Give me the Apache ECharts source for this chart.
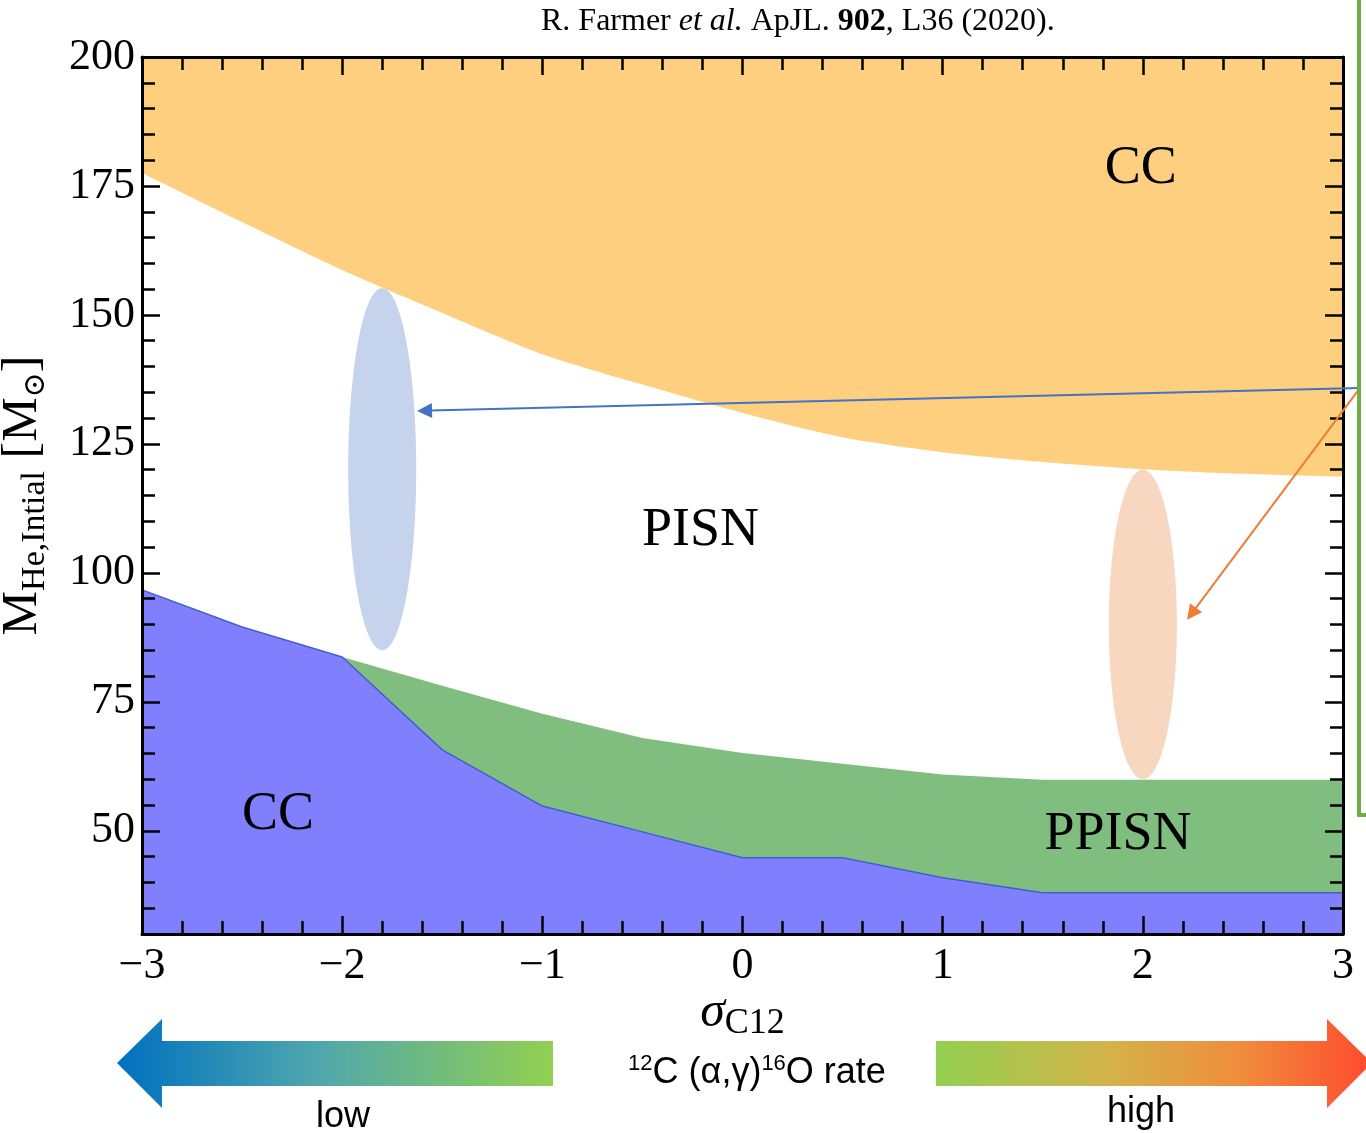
<!DOCTYPE html>
<html><head><meta charset="utf-8">
<script src="https://cdn.jsdelivr.net/npm/echarts@6/dist/echarts.min.js"></script>
<style>html,body{margin:0;padding:0;background:#fff}#c{width:1366px;height:1133px}</style>
</head><body><div id="c"></div>
<script>
// ---------- data ----------
const xTickLabels = [-3, -2, -1, 0, 1, 2, 3];
const yTickLabels = [50, 75, 100, 125, 150, 175, 200];

// lower edge of the upper CC region (sigma_C12, M_He)
const ccUpperEdge = [[-3,177.5],[-2.5,168.0],[-2,158.7],[-1.5,150.4],[-1,142.4],[-0.5,136.5],[0,131.0],[0.5,126.3],[1,123.4],[1.5,121.5],[2,120.1],[2.5,119.2],[3,118.6]];
// upper edge of the PPISN region
const ppisnUpperEdge = [[-2,83.7],[-1.5,78.1],[-1,72.7],[-0.5,68.0],[0,65.1],[0.5,63.0],[1,60.9],[1.5,59.9],[2,59.9],[2.5,59.9],[3,59.9]];
// upper edge of the lower CC region
const ccLowerEdge = [[-3,96.7],[-2.5,89.5],[-2,83.7],[-1.5,65.7],[-1,54.8],[-0.5,49.8],[0,44.8],[0.5,44.8],[1,40.9],[1.5,38.0],[2,38.0],[2.5,38.0],[3,38.0]];

// highlighted ranges: [centre sigma, centre mass, half width sigma, half height mass]
const lowRateRange = [-1.80, 120.1, 0.17, 35.1];
const highRateRange = [2.00, 90.0, 0.17, 30.0];

// pointer arrows: [from sigma, from mass, to sigma, to mass]
const lowRateArrow = [3.085, 135.85, -1.626, 131.4];
const highRateArrow = [3.085, 135.85, 2.221, 90.9];

// region names and where they sit
const regionNames = ['CC', 'PISN', 'CC', 'PPISN'];
const regionNamePos = [[1.99,178.3],[-0.21,108.1],[-2.32,53.1],[1.876,49.2]];

// ---------- chart ----------
const SERIF = 'Liberation Serif, Times New Roman, serif';
const SANS = 'Liberation Sans, Arial, sans-serif';
const chart = echarts.init(document.getElementById('c'), null, {renderer: 'canvas'});

const fmtX = v => (v < 0 ? '\u2212' + Math.abs(v) : String(v));
const tickStyle = {color: '#000', width: 2.5};
const frame = {show: true, onZero: false, lineStyle: {color: '#000', width: 3}};

function xAx(pos, withLabels) {
  return {
    type: 'value', position: pos, min: -3, max: 3, interval: 1, z: 10,
    axisLine: frame,
    axisTick: {show: true, inside: true, length: 18, lineStyle: tickStyle},
    minorTick: {show: true, splitNumber: 5, length: 13, lineStyle: tickStyle},
    splitLine: {show: false}, minorSplitLine: {show: false},
    axisLabel: withLabels ? {show: true, customValues: xTickLabels, formatter: fmtX, margin: 10,
      fontFamily: SERIF, fontSize: 44, color: '#000'} : {show: false},
    name: withLabels ? '{s|\u03c3}{c|C12}' : '',
    nameLocation: 'middle', nameGap: 50, nameMoveOverlap: false,
    nameTextStyle: {color: '#000', rich: {
      s: {fontFamily: SERIF, fontStyle: 'italic', fontSize: 50, color: '#000'},
      c: {fontFamily: SERIF, fontSize: 36, color: '#000', padding: [22, 0, 0, 0]}
    }}
  };
}
function yMinor(pos, withLabels) {
  return {
    type: 'value', position: pos, min: 30, max: 200, interval: 5, z: 10,
    axisLine: frame,
    axisTick: {show: true, inside: true, length: 13, lineStyle: tickStyle},
    splitLine: {show: false},
    axisLabel: withLabels ? {show: true, customValues: yTickLabels, margin: 7,
      fontFamily: SERIF, fontSize: 44, color: '#000'} : {show: false},
    name: withLabels ? '{m|M}{s|He,Intial}{n| [M}{o|\u2299}{n|]}' : '',
    nameLocation: 'middle', nameGap: 90, nameMoveOverlap: false,
    nameTextStyle: {color: '#000', rich: {
      m: {fontFamily: SERIF, fontSize: 50, color: '#000'},
      n: {fontFamily: SERIF, fontSize: 50, color: '#000'},
      s: {fontFamily: SERIF, fontSize: 34, color: '#000', padding: [24, 0, 0, 0]},
      o: {fontFamily: 'DejaVu Serif, DejaVu Sans', fontSize: 30, color: '#000', padding: [26, 0, 0, 0]}
    }}
  };
}
function yMajor(pos) {
  return {
    type: 'value', position: pos, min: 30, max: 200, z: 10,
    axisLine: {show: false, onZero: false},
    axisTick: {show: true, inside: true, length: 18, customValues: yTickLabels, lineStyle: tickStyle},
    splitLine: {show: false},
    axisLabel: {show: false}
  };
}

function ellipseItem(color) {
  return function (params, api) {
    const c = api.coord([api.value(0), api.value(1)]);
    const s = api.size([api.value(2), api.value(3)]);
    const pts = [];
    for (let i = 0; i < 90; i++) {
      const a = i / 90 * Math.PI * 2;
      pts.push([c[0] + s[0] * Math.cos(a), c[1] + s[1] * Math.sin(a)]);
    }
    return {type: 'polygon', shape: {points: pts}, style: {fill: color}};
  };
}
function arrowItem(color) {
  return function (params, api) {
    const p1 = api.coord([api.value(0), api.value(1)]);
    const p2 = api.coord([api.value(2), api.value(3)]);
    const dx = p2[0] - p1[0], dy = p2[1] - p1[1];
    const L = Math.sqrt(dx * dx + dy * dy);
    const ux = dx / L, uy = dy / L, px = -uy, py = ux;
    const hl = 15, hw = 7.5;
    const bx = p2[0] - ux * hl, by = p2[1] - uy * hl;
    return {type: 'group', children: [
      {type: 'line', shape: {x1: p1[0], y1: p1[1], x2: bx + ux * 2, y2: by + uy * 2}, style: {stroke: color, lineWidth: 2}},
      {type: 'polygon', shape: {points: [[p2[0], p2[1]], [bx + px * hw, by + py * hw], [bx - px * hw, by - py * hw]]}, style: {fill: color}}
    ]};
  };
}

const option = {
  backgroundColor: '#fff',
  animation: false,
  grid: {left: 142, right: 23, top: 57, bottom: 199, containLabel: false, outerBoundsMode: 'none'},
  xAxis: [xAx('bottom', true), xAx('top', false)],
  yAxis: [yMinor('left', true), yMajor('left'), yMinor('right', false), yMajor('right')],
  series: [
    {type: 'line', name: 'CC (upper)', data: ccUpperEdge, smooth: 0.25, symbol: 'none',
      lineStyle: {width: 0}, areaStyle: {color: '#fdcf7f', opacity: 1, origin: 'end'}, z: 1},
    {type: 'line', name: 'PPISN', data: ppisnUpperEdge, smooth: false, symbol: 'none',
      lineStyle: {width: 0}, areaStyle: {color: '#80be80', opacity: 1, origin: 'start'}, z: 2},
    {type: 'line', name: 'CC (lower)', data: ccLowerEdge, smooth: false, symbol: 'none',
      lineStyle: {width: 1.5, color: '#3f5fd0'}, areaStyle: {color: '#8080ff', opacity: 1, origin: 'start'}, z: 3},
    {type: 'custom', name: 'low range', data: [lowRateRange], renderItem: ellipseItem('#c5d3ec'), z: 4, silent: true},
    {type: 'custom', name: 'high range', data: [highRateRange], renderItem: ellipseItem('#f8d7c1'), z: 4, silent: true},
    {type: 'custom', name: 'regions', clip: false, silent: true,
      data: regionNamePos.map((p, i) => [p[0], p[1], i]),
      renderItem: function (params, api) {
        const c = api.coord([api.value(0), api.value(1)]);
        return {type: 'text', x: c[0], y: c[1], style: {text: regionNames[api.value(2)],
          fontFamily: SERIF, fontSize: 54, fill: '#000', align: 'center', verticalAlign: 'middle'}};
      }, z: 5},
    {type: 'custom', name: 'arrow low', clip: false, silent: true, data: [lowRateArrow],
      encode: {x: [0, 2], y: [1, 3]}, renderItem: arrowItem('#4472c4'), z: 20},
    {type: 'custom', name: 'arrow high', clip: false, silent: true, data: [highRateArrow],
      encode: {x: [0, 2], y: [1, 3]}, renderItem: arrowItem('#ed7d31'), z: 20}
  ],
  graphic: [
    {type: 'text', left: 541, top: 6, z: 30, style: {
      text: '{n|R. Farmer }{i|et al.}{n| ApJL. }{b|902}{n|, L36 (2020).}',
      rich: {
        n: {fontFamily: SERIF, fontSize: 32, fill: '#000'},
        i: {fontFamily: SERIF, fontSize: 32, fontStyle: 'italic', fill: '#000'},
        b: {fontFamily: SERIF, fontSize: 32, fontWeight: 'bold', fill: '#000'}
      }}},
    {type: 'rect', z: 30, shape: {x: 1359, y: -5, width: 100, height: 820}, style: {fill: 'none', stroke: '#70ad47', lineWidth: 4}},
    {type: 'polygon', z: 30, shape: {points: [[117,1063],[162,1019],[162,1041],[553,1041],[553,1086],[162,1086],[162,1108]]},
      style: {fill: new echarts.graphic.LinearGradient(0, 0, 1, 0, [
        {offset: 0, color: '#0070c0'}, {offset: 0.45, color: '#4ea6ae'}, {offset: 1, color: '#92d050'}])}},
    {type: 'polygon', z: 30, shape: {points: [[936,1041],[1327,1041],[1327,1019],[1372,1063],[1327,1108],[1327,1086],[936,1086]]},
      style: {fill: new echarts.graphic.LinearGradient(0, 0, 1, 0, [
        {offset: 0, color: '#92d050'}, {offset: 0.4, color: '#d4b24a'}, {offset: 0.7, color: '#f08c3c'}, {offset: 1, color: '#ff4a2e'}])}},
    {type: 'text', z: 30, x: 757, y: 1073, style: {
      text: '{p|12}{t|C (\u03b1,\u03b3)}{p|16}{t|O rate}', align: 'center', verticalAlign: 'middle',
      rich: {
        t: {fontFamily: SANS, fontSize: 36, fill: '#000'},
        p: {fontFamily: SANS, fontSize: 22, fill: '#000', padding: [0, 0, 18, 0]}
      }}},
    {type: 'text', z: 30, x: 343, y: 1117, style: {text: 'low', fontFamily: SANS, fontSize: 36, fill: '#000', align: 'center', verticalAlign: 'middle'}},
    {type: 'text', z: 30, x: 1141, y: 1112, style: {text: 'high', fontFamily: SANS, fontSize: 36, fill: '#000', align: 'center', verticalAlign: 'middle'}}
  ]
};
chart.setOption(option);
</script></body></html>
